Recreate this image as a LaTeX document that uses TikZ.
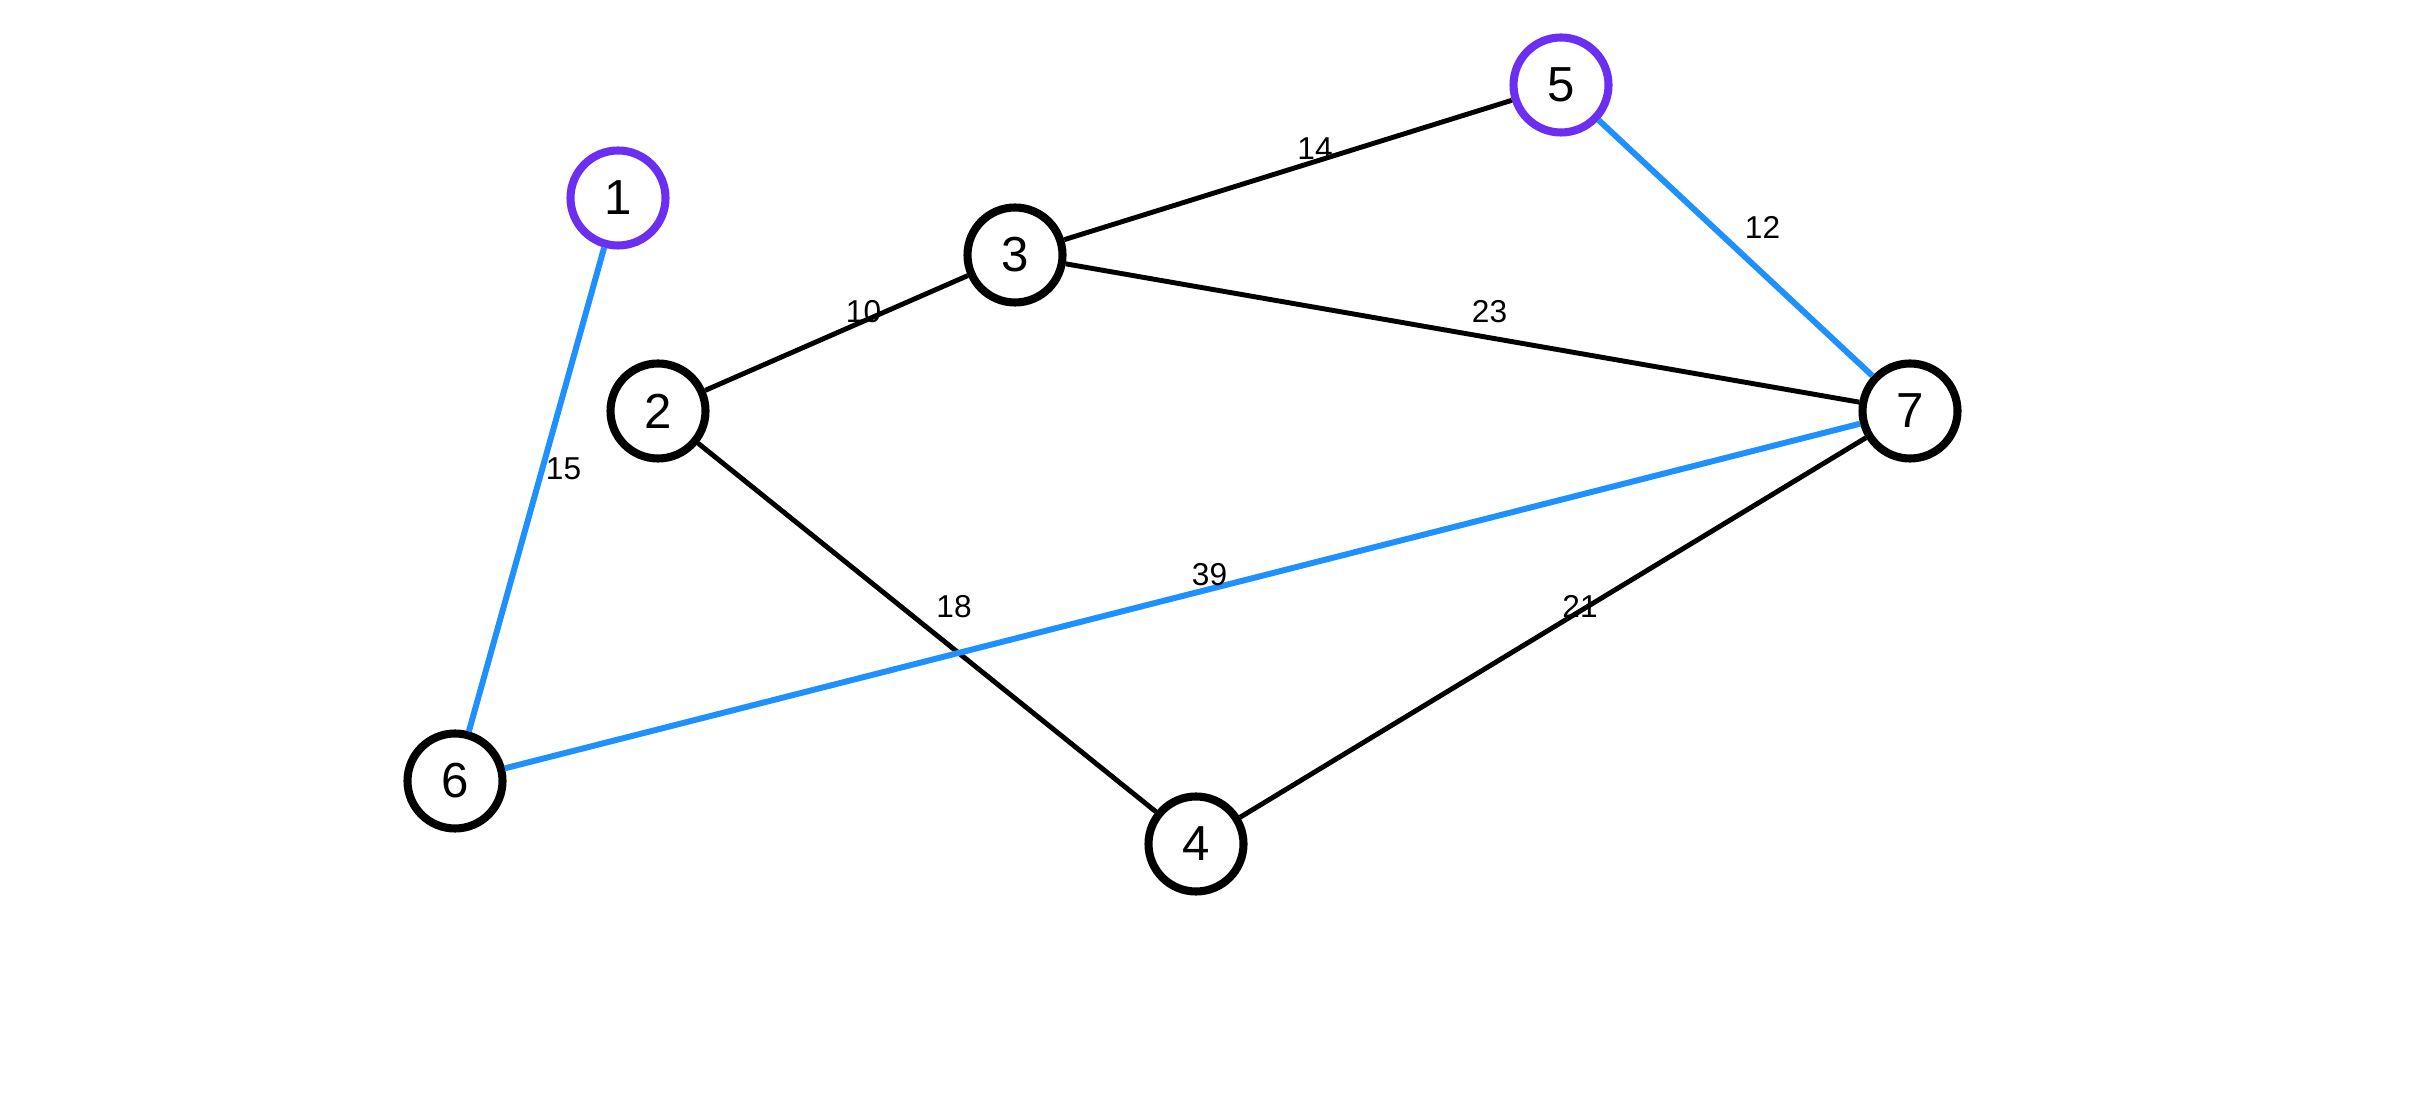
\documentclass[tikz,border=0pt]{standalone}
\usepackage{fontspec}
\setmainfont{Liberation Sans}
\usetikzlibrary{positioning}
\definecolor{pickblue}{RGB}{30,144,255}
\definecolor{startviolet}{RGB}{108,46,240}

\begin{document}
\begin{tikzpicture}[c/.style={circle, draw, line width=2.3pt, minimum size=0.95cm, inner sep=0pt, font=\fontsize{14}{16}\selectfont, fill=white},
	src/.style={draw=startviolet},
	e/.style={draw=black, line width=1.4pt},
	tree/.style={draw=pickblue, line width=1.7pt},
	w/.style={midway, xshift=0.27cm, yshift=0.21cm, inner sep=0pt, font=\fontsize{9}{10}\selectfont}]
		\useasboundingbox (0,0) rectangle (24.11,10.94);
		\node [c, src] (N1) at (6.18,8.96) {1};
		\node [c] (N2) at (6.58,6.83) {2};
		\node [c] (N3) at (10.15,8.39) {3};
		\node [c] (N4) at (11.96,2.50) {4};
		\node [c, src] (N5) at (15.61,10.09) {5};
		\node [c] (N6) at (4.55,3.13) {6};
		\node [c] (N7) at (19.10,6.83) {7};

		\path[tree] (N1) edge node [w] {15} (N6);
		\path[e] (N2) edge node [w] {10} (N3);
		\path[e] (N2) edge node [w] {18} (N4);
		\path[e] (N3) edge node [w] {14} (N5);
		\path[e] (N3) edge node [w] {23} (N7);
		\path[e] (N4) edge node [w] {21} (N7);
		\path[tree] (N5) edge node [w] {12} (N7);
		\path[tree] (N6) edge node [w] {39} (N7);
	\end{tikzpicture}
\end{document}
